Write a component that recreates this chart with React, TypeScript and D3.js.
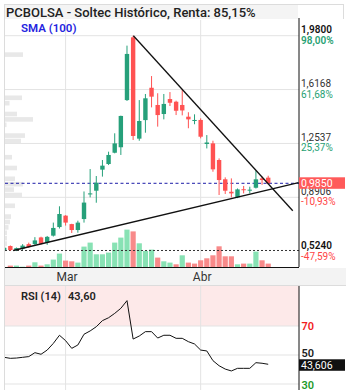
import * as d3 from 'd3';

// daily candles (index 0 is the clipped one at the left edge)
const opens = [
  0.535, 0.562, 0.535, 0.545, 0.575, 0.575, 0.62, 0.587, 0.632, 0.69, 0.767, 0.71, 0.67, 0.744, 0.91,
  0.935, 1.077, 1.115, 1.191, 1.228, 1.546, 1.969, 1.286, 1.411, 1.629, 1.513, 1.452, 1.553, 1.535,
  1.513, 1.434, 1.405, 1.412, 1.25, 1.254, 1.142, 1.012, 0.928, 0.89, 0.945, 0.937, 0.955, 1.018, 1.023,
];
const highs = [
  0.553, 0.566, 0.552, 0.575, 0.585, 0.622, 0.625, 0.63, 0.72, 0.83, 0.77, 0.712, 0.733, 0.93, 1.081,
  1.034, 1.142, 1.198, 1.322, 1.441, 1.913, 1.98, 1.546, 1.587, 1.708, 1.592, 1.587, 1.6, 1.542,
  1.62, 1.464, 1.45, 1.423, 1.31, 1.272, 1.153, 1.025, 1.018, 0.95, 0.967, 0.962, 1.07, 1.03, 1.036,
];
const lows = [
  0.53, 0.53, 0.528, 0.535, 0.55, 0.57, 0.572, 0.57, 0.626, 0.68, 0.7, 0.65, 0.652, 0.72, 0.89,
  0.854, 1.03, 1.108, 1.187, 1.176, 1.54, 1.277, 1.272, 1.326, 1.497, 1.367, 1.416, 1.506, 1.445,
  1.443, 1.356, 1.383, 1.288, 1.22, 1.063, 0.906, 0.913, 0.89, 0.885, 0.917, 0.917, 0.95, 0.975, 0.98,
];
const closes = [
  0.55, 0.535, 0.548, 0.565, 0.556, 0.6, 0.577, 0.624, 0.684, 0.778, 0.72, 0.67, 0.72, 0.855, 0.917,
  0.989, 1.104, 1.176, 1.254, 1.439, 1.857, 1.304, 1.405, 1.558, 1.569, 1.445, 1.52, 1.528, 1.474,
  1.476, 1.416, 1.412, 1.299, 1.26, 1.079, 1.007, 0.935, 0.917, 0.944, 0.94, 0.942, 1.012, 1.007, 0.985,
];
const volumes = [
  0, 14, 14, 3, 14, 47, 14, 27, 74, 134, 64, 57, 44, 204, 244, 127, 127, 144, 244, 294, 374, 356,
  237, 160, 174, 94, 57, 44, 27, 117, 44, 34, 67, 87, 117, 207, 107, 107, 27, 34, 34, 154, 67, 34,
];
const rsiValues = [
  48.4, 47.7, 47.9, 48.4, 48.9, 51.6, 50.5, 53.4, 58.0, 63.6, 59.9, 54.6, 56.9, 64.3, 66.6, 69.5,
  73.7, 75.7, 78.7, 82.2, 87.5, 61.0, 63.1, 66.1, 66.1, 61.7, 63.6, 63.6, 61.5, 61.5, 59.2, 57.6,
  53.4, 52.8, 46.1, 42.6, 40.3, 39.0, 40.8, 40.8, 40.8, 44.7, 44.3, 43.6,
];

const xTickIndex = [10, 32];
const xTickLabels = ['Mar', 'Abr'];

const priceTicks = [1.98, 1.6168, 1.2537, 0.8906, 0.524];
const priceTickLabels = ['1,9800', '1,6168', '1,2537', '0,8906', '0,5240'];
const pctTickLabels = ['98,00%', '61,68%', '25,37%', '-10,93%', '-47,59%'];

// volume profile, bins of price from the bottom up
const profileStart = 0.524;
const profileStep = 0.0364;
const profileBins = [
  1, 2, 2, 2, 3.5, 5, 6, 0, 10, 0, 17, 9, 18, 10, 0, 12, 0, 7, 0, 0, 16, 20, 0, 1.5, 28, 12, 0, 4.5,
  17, 0, 0, 0, 0, 0, 0, 0, 18, 0, 0, 0,
];

const buyPrice = 0.532;
const lastPrice = 0.985;
const lastPriceLabel = '0,9850';
const trendDown: [number, number][] = [[21.04, 1.98], [47.0, 0.8]];
const trendUp: [number, number][] = [[1.49, 0.532], [47.94, 0.989]];

const rsiTicks = [70, 50, 30];
const rsiTickColors = ['#f21d1d', '#222', '#1f9a2a'];
const rsiTickOffsets = [3.5, 1.8, 4.5];
const rsiLastLabel = '43,606';

const UP = '#26a07a';
const DOWN = '#ff5252';
const VOL_UP = '#88e2b4';
const VOL_DOWN = '#f88a8a';
const FONT = 'Roboto, sans-serif';

export default function App() {
  const W = 353;
  const H = 390;
  const plot = { left: 5, right: 299, top: 20, bottom: 267 };
  const rsiPanel = { top: 286, bottom: 392 };

  const x = d3.scaleLinear().domain([0, 43]).range([4.2, 268.2]);
  const y = d3.scaleLinear().domain([0.8906, 1.98]).range([197.3, 35.7]);
  const yVol = d3.scaleLinear().domain([0, 374]).range([plot.bottom, plot.bottom - 37.4]);
  const yRsi = d3.scaleLinear().domain([30, 70]).range([384, 326]);
  const profW = d3.scaleLinear().domain([0, 28]).range([0, 28]);

  const bodyW = 4.4;
  const volW = 5.2;

  const trendLine = d3
    .line<[number, number]>()
    .x((d) => x(d[0]))
    .y((d) => y(d[1]));

  const rsiLine = d3
    .line<number>()
    .x((_, i) => x(i))
    .y((d) => yRsi(d));

  return (
    <svg
      width={W}
      height={H}
      style={{ position: 'absolute', left: 0, top: 0, background: '#fff' }}
      fontFamily={FONT}
    >
      <defs>
        <clipPath id="plotClip">
          <rect x={plot.left} y={plot.top} width={plot.right - plot.left} height={plot.bottom - plot.top} />
        </clipPath>
        <clipPath id="rsiClip">
          <rect x={plot.left} y={rsiPanel.top} width={plot.right - plot.left} height={rsiPanel.bottom - rsiPanel.top} />
        </clipPath>
      </defs>

      {/* frame + title */}
      <line x1={4} x2={344} y1={4.5} y2={4.5} stroke="#dcdcdc" />
      <line x1={4.5} x2={4.5} y1={4} y2={H} stroke="#dcdcdc" />
      <line x1={343.5} x2={343.5} y1={4} y2={19} stroke="#dcdcdc" />
      <rect x={5} y={5} width={293} height={14} fill="#f4f4f4" />
      <text x={6} y={16.5} fontSize={13} fontWeight={500} fill="#222">
        PCBOLSA - Soltec Histórico, Renta: 85,15%
      </text>

      {/* main grid */}
      <g stroke="#e3e3e3" strokeWidth={1}>
        {priceTicks.slice(0, 4).map((p) => (
          <line key={p} x1={plot.left} x2={plot.right} y1={y(p)} y2={y(p)} />
        ))}
        {xTickIndex.map((i) => (
          <line key={i} x1={x(i)} x2={x(i)} y1={plot.top} y2={plot.bottom} />
        ))}
      </g>

      <g clipPath="url(#plotClip)">
        {/* volume profile */}
        {profileBins.map((v, k) =>
          v > 0 ? (
            <rect
              key={k}
              x={plot.left}
              y={y(profileStart + (k + 1) * profileStep) + 0.4}
              width={profW(v)}
              height={y(profileStart) - y(profileStart + profileStep) - 0.8}
              fill="#e8e8e8"
            />
          ) : null,
        )}

        {/* volume */}
        {volumes.map((v, i) => {
          const up = i === 0 || closes[i] >= closes[i - 1];
          return (
            <rect
              key={i}
              x={x(i) - volW / 2}
              y={yVol(v)}
              width={volW}
              height={plot.bottom - yVol(v)}
              fill={up ? VOL_UP : VOL_DOWN}
            />
          );
        })}

        {/* reference lines */}
        <line
          x1={plot.left}
          x2={plot.right}
          y1={y(buyPrice)}
          y2={y(buyPrice)}
          stroke="#333"
          strokeDasharray="2,2"
        />
        <line
          x1={plot.left}
          x2={plot.right}
          y1={y(lastPrice)}
          y2={y(lastPrice)}
          stroke="#1c1ca8"
          strokeDasharray="3,2.5"
        />

        {/* candles */}
        {opens.map((o, i) => {
          const c = closes[i];
          const col = c >= o ? UP : DOWN;
          const top = y(Math.max(o, c));
          const bot = y(Math.min(o, c));
          return (
            <g key={i}>
              <line x1={x(i)} x2={x(i)} y1={y(highs[i])} y2={y(lows[i])} stroke={col} strokeWidth={1} />
              <rect x={x(i) - bodyW / 2} y={top} width={bodyW} height={Math.max(1, bot - top)} fill={col} />
            </g>
          );
        })}

        {/* trend lines */}
        <path d={trendLine(trendDown)!} stroke="#111" strokeWidth={1.3} fill="none" />
        <path d={trendLine(trendUp)!} stroke="#111" strokeWidth={1.3} fill="none" />
      </g>

      <text x={21} y={32} fontSize={11.5} fontWeight={600} fill="#2424e0">
        SMA (100)
      </text>

      {/* main axes */}
      <line x1={plot.right} x2={plot.right} y1={18} y2={plot.bottom} stroke="#111" />
      <line x1={plot.left} x2={plot.right} y1={plot.bottom + 0.5} y2={plot.bottom + 0.5} stroke="#111" />

      {priceTicks.map((p, k) => {
        const edge = k === 0 || k === priceTicks.length - 1;
        const neg = p < 1;
        return (
          <g key={p} fontSize={10}>
            <text x={301} y={y(p) - 2.3} fill={edge ? '#111' : '#333'} fontWeight={edge ? 600 : 400}>
              {priceTickLabels[k]}
            </text>
            <text x={301} y={y(p) + 8} fill={neg ? '#ff4545' : '#27a173'} fontWeight={k === 0 ? 600 : 400}>
              {pctTickLabels[k]}
            </text>
          </g>
        );
      })}

      {/* last price tag */}
      <rect x={299} y={y(lastPrice) - 6} width={46} height={11.5} fill="#ff5a5a" />
      <text x={301} y={y(lastPrice) + 4} fontSize={10.5} fill="#fff">
        {lastPriceLabel}
      </text>

      {/* x axis band */}
      <rect x={5} y={plot.bottom + 1} width={341} height={rsiPanel.top - plot.bottom - 1.5} fill="#f3f3f3" />
      <line x1={5} x2={346} y1={rsiPanel.top - 0.5} y2={rsiPanel.top - 0.5} stroke="#dcdcdc" />
      {xTickIndex.map((i, k) => (
        <text key={i} x={x(i) + 1.5} y={281} fontSize={12} fill="#333" textAnchor="middle">
          {xTickLabels[k]}
        </text>
      ))}

      {/* RSI panel */}
      <rect x={plot.left} y={rsiPanel.top} width={plot.right - plot.left} height={yRsi(70) - rsiPanel.top} fill="#fde9e9" />
      <g stroke="#e3e3e3">
        {rsiTicks.map((t) => (
          <line key={t} x1={plot.left} x2={plot.right} y1={yRsi(t)} y2={yRsi(t)} />
        ))}
        {xTickIndex.map((i) => (
          <line key={i} x1={x(i)} x2={x(i)} y1={rsiPanel.top} y2={H} />
        ))}
      </g>
      <g clipPath="url(#rsiClip)">
        <path d={rsiLine(rsiValues)!} stroke="#111" strokeWidth={1} fill="none" />
      </g>
      <text x={21} y={300} fontSize={11} fontWeight={600} fill="#222">
        RSI (14)
      </text>
      <text x={68} y={300} fontSize={11} fontWeight={600} fill="#222">
        43,60
      </text>
      <line x1={plot.right} x2={plot.right} y1={rsiPanel.top} y2={H} stroke="#111" />
      {rsiTicks.map((t, k) => (
        <text key={t} x={301.5} y={yRsi(t) + rsiTickOffsets[k]} fontSize={11} fontWeight={600} fill={rsiTickColors[k]}>
          {t}
        </text>
      ))}
      <rect x={299} y={yRsi(43.6) - 5} width={46} height={11.5} fill="#111" />
      <text x={301} y={yRsi(43.6) + 4.5} fontSize={10.5} fill="#fff">
        {rsiLastLabel}
      </text>
    </svg>
  );
}
